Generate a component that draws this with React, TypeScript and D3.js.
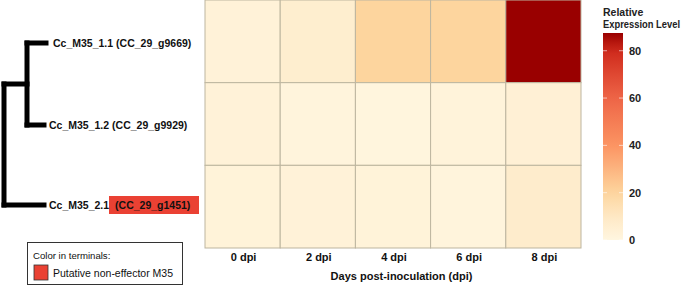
import React from "react";
import * as d3 from "d3";

const days = ["0 dpi", "2 dpi", "4 dpi", "6 dpi", "8 dpi"];
const genes = ["Cc_M35_1.1", "Cc_M35_1.2", "Cc_M35_2.1"];
const geneIds = ["(CC_29_g9669)", "(CC_29_g9929)", "(CC_29_g1451)"];
const highlighted = [false, false, true];
const row11 = [3, 6, 20, 20, 87.5];
const row12 = [3, 1.5, 1, 2, 4];
const row21 = [2.5, 3, 2.5, 1.5, 7];
const values = [row11, row12, row21];
const legendTicks = [0, 20, 40, 60, 80];
const colorStops = [0, 10, 20, 40, 60, 80, 87.5];
const colorRange = ["#FFF6E0", "#FEE8C4", "#FDD59E", "#FC9462", "#EE6547", "#CF2A1C", "#990000"];

export default function App() {
  const W = 685, H = 286;
  const hmLeft = 205, hmRight = 581, hmTop = 0, hmBottom = 248;
  const x = d3.scaleBand<string>().domain(days).range([hmLeft, hmRight]);
  const y = d3.scaleBand<string>().domain(genes).range([hmTop, hmBottom]);
  const color = d3.scaleLinear<string>().domain(colorStops).range(colorRange).clamp(true);
  const barTop = 33, barBottom = 240, barX = 603, barW = 20;
  const ly = d3.scaleLinear().domain([0, 87.5]).range([barBottom, barTop]);
  const gradStops = d3.range(0, 1.0001, 0.05).map((t) => ({ t, c: color(t * 87.5) }));

  const leafY = [43, 125, 205];
  const rootX = 4, innerX = 27;
  const innerY = (leafY[0] + leafY[1]) / 2;
  const lw = 5;
  const font = "'Liberation Sans', Arial, sans-serif";

  return (
    <svg width={W} height={H} style={{ position: "absolute", left: 0, top: 0, background: "#fff" }} fontFamily={font}>
      <defs>
        <linearGradient id="lg" x1="0" y1="1" x2="0" y2="0">
          {gradStops.map((s, i) => (
            <stop key={i} offset={s.t} stopColor={s.c} />
          ))}
        </linearGradient>
      </defs>
      {/* heatmap */}
      {values.map((row, ri) =>
        row.map((v, ci) => (
          <rect
            key={`${ri}-${ci}`}
            x={x(days[ci])}
            y={y(genes[ri])}
            width={x.bandwidth()}
            height={y.bandwidth()}
            fill={color(v)}
            stroke="#BDB59F"
            strokeWidth={1}
          />
        ))
      )}
      {/* x ticks */}
      {days.map((d) => (
        <text key={d} x={(x(d) as number) + x.bandwidth() / 2 + 1} y={260.5} textAnchor="middle" fontSize={11} fontWeight="bold" fill="#111">
          {d}
        </text>
      ))}
      <text x={401.5} y={279.5} textAnchor="middle" fontSize={11} fontWeight="bold" fill="#111">
        Days post-inoculation (dpi)
      </text>
      {/* tree */}
      <g stroke="#000" strokeWidth={lw} fill="none" strokeLinecap="square">
        <line x1={rootX} y1={innerY} x2={rootX} y2={leafY[2]} />
        <line x1={rootX} y1={innerY} x2={innerX} y2={innerY} />
        <line x1={rootX} y1={leafY[2]} x2={44} y2={leafY[2]} />
        <line x1={innerX} y1={leafY[0]} x2={innerX} y2={leafY[1]} />
        <line x1={innerX} y1={leafY[0]} x2={46} y2={leafY[0]} />
        <line x1={innerX} y1={leafY[1]} x2={44} y2={leafY[1]} />
      </g>
      {genes.map((g, i) => {
        const tx = i === 0 ? 53 : 49;
        return (
          <g key={g}>
            {highlighted[i] && <rect x={109} y={leafY[i] - 9} width={90} height={18} fill="#EA4133" />}
            <text x={tx} y={leafY[i] + 4} fontSize={10.5} fontWeight="bold" fill="#111">
              {g + " "}
              <tspan dx={highlighted[i] ? 3 : 0}>{geneIds[i]}</tspan>
            </text>
          </g>
        );
      })}
      {/* tree legend */}
      <rect x={27.5} y={242.5} width={155} height={42} fill="#fff" stroke="#333" strokeWidth={1} />
      <text x={33} y={259} fontSize={9.6} fill="#111">Color in terminals:</text>
      <rect x={34} y={265} width={14} height={15} fill="#EA4133" stroke="#333" strokeWidth={0.8} />
      <text x={53} y={276.5} fontSize={10.5} fill="#111">Putative non-effector M35</text>
      {/* color legend */}
      <text x={barX} y={16} fontSize={10.5} fontWeight="bold" fill="#222">Relative</text>
      <text x={barX} y={28} fontSize={10} fontWeight="bold" fill="#222" textLength={77} lengthAdjust="spacingAndGlyphs">Expression Level</text>
      <rect x={barX} y={barTop} width={barW} height={barBottom - barTop} fill="url(#lg)" />
      {legendTicks.map((t) => (
        <g key={t}>
          <line x1={barX} x2={barX + 4} y1={ly(t)} y2={ly(t)} stroke="#fff" strokeOpacity={0.6} />
          <line x1={barX + barW - 4} x2={barX + barW} y1={ly(t)} y2={ly(t)} stroke="#fff" strokeOpacity={0.6} />
          <text x={barX + barW + 6} y={ly(t) + 4} fontSize={11} fontWeight="bold" fill="#222">
            {t}
          </text>
        </g>
      ))}
    </svg>
  );
}
